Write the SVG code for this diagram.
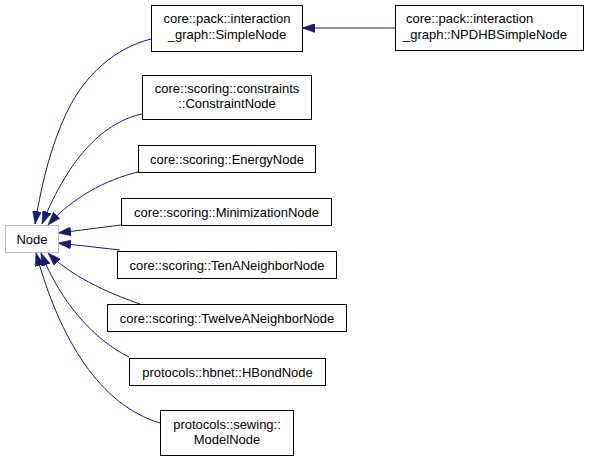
<svg xmlns="http://www.w3.org/2000/svg" width="589" height="461" viewBox="0 0 589 461">
<style>
  .box { fill: #ffffff; stroke: #000000; stroke-width: 1; }
  .root { fill: #ffffff; stroke: #bfbfbf; stroke-width: 1; }
  text { font-family: "Liberation Sans", Arial, sans-serif; font-size: 13px; fill: #000000; }
  .c { text-anchor: middle; }
  .edge { fill: none; stroke: #191970; stroke-width: 1; marker-end: url(#arrow); }
</style>
<defs>
  <marker id="arrow" viewBox="0 0 13 9" refX="13" refY="4.5" markerWidth="13" markerHeight="9" markerUnits="userSpaceOnUse" orient="auto">
    <path d="M0,0 L13,4.5 L0,9 z" fill="#191970" stroke="#191970" stroke-width="0.5"/>
  </marker>
</defs>
<rect width="589" height="461" fill="#ffffff"/>
<g id="connectors">
  <path class="edge" d="M395,28 L302,28"/>
  <path class="edge" d="M151,39 C115,48 85,75 68,110 C53,140 42,180 35,224"/>
  <path class="edge" d="M142,114 C105,122 70,155 42,224"/>
  <path class="edge" d="M138,172 C105,180 72,198 48,225"/>
  <path class="edge" d="M121,225 L58,233"/>
  <path class="edge" d="M120,250 L58,243"/>
  <path class="edge" d="M140,304 C105,292 70,275 48,253"/>
  <path class="edge" d="M129,357 C95,340 62,305 41,253"/>
  <path class="edge" d="M160,423 C100,405 60,340 36,253"/>
</g>
<g id="node-Node">
  <rect class="root" x="5.5" y="225.5" width="53" height="27"/>
  <text class="c" x="32" y="243.5">Node</text>
</g>
<g id="node-SimpleNode">
  <rect class="box" x="151.5" y="5.5" width="151" height="46"/>
  <text class="c" x="227" y="23">core::pack::interaction</text>
  <text class="c" x="227" y="39">_graph::SimpleNode</text>
</g>
<g id="node-NPDHBSimpleNode">
  <rect class="box" x="395.5" y="5.5" width="188" height="45"/>
  <text x="406" y="23">core::pack::interaction</text>
  <text x="403" y="39">_graph::NPDHBSimpleNode</text>
</g>
<g id="node-ConstraintNode">
  <rect class="box" x="142.5" y="75.5" width="169" height="44"/>
  <text class="c" x="227" y="92.5">core::scoring::constraints</text>
  <text class="c" x="227" y="108">::ConstraintNode</text>
</g>
<g id="node-EnergyNode">
  <rect class="box" x="138.5" y="145.5" width="177" height="27"/>
  <text class="c" x="227" y="163.5">core::scoring::EnergyNode</text>
</g>
<g id="node-MinimizationNode">
  <rect class="box" x="121.5" y="198.5" width="210" height="27"/>
  <text class="c" x="226.5" y="216.5">core::scoring::MinimizationNode</text>
</g>
<g id="node-TenANeighborNode">
  <rect class="box" x="117.5" y="251.5" width="219" height="27"/>
  <text class="c" x="227" y="269.5">core::scoring::TenANeighborNode</text>
</g>
<g id="node-TwelveANeighborNode">
  <rect class="box" x="107.5" y="304.5" width="239" height="27"/>
  <text class="c" x="227" y="322.5">core::scoring::TwelveANeighborNode</text>
</g>
<g id="node-HBondNode">
  <rect class="box" x="129.5" y="358.5" width="196" height="27"/>
  <text class="c" x="227.5" y="376.5">protocols::hbnet::HBondNode</text>
</g>
<g id="node-ModelNode">
  <rect class="box" x="160.5" y="410.5" width="133" height="45"/>
  <text class="c" x="227" y="428.5">protocols::sewing::</text>
  <text class="c" x="227" y="444">ModelNode</text>
</g>
</svg>
